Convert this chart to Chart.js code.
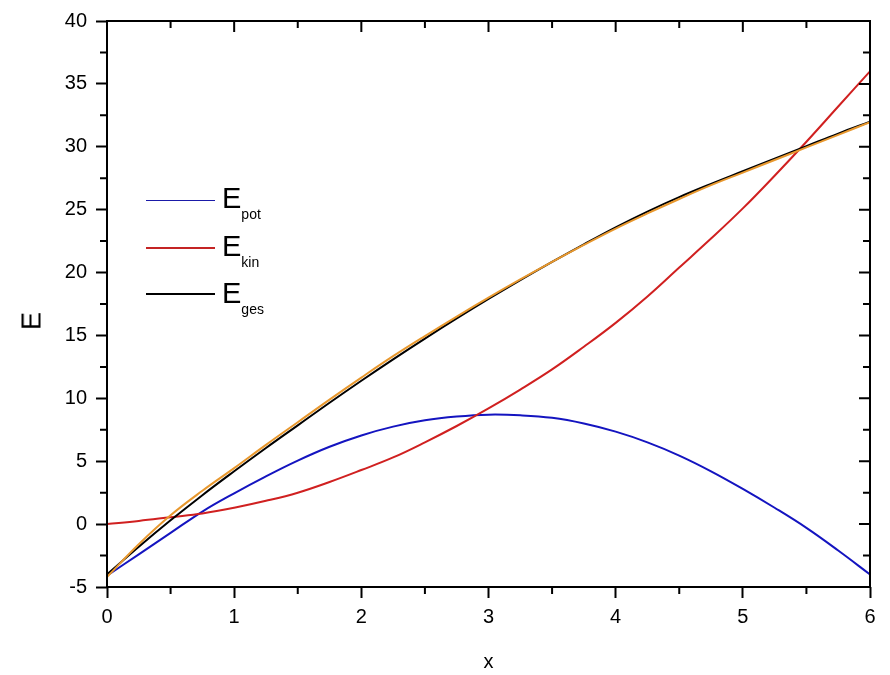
<!DOCTYPE html>
<html>
<head>
<meta charset="utf-8">
<script src="https://cdn.jsdelivr.net/npm/chart.js@4/dist/chart.umd.min.js"></script>
<style>
  body { margin: 0; background: #fff; }
  #wrap { position: relative; width: 890px; height: 675px; }
  .leg-line { position: absolute; left: 146px; width: 69px; }
  .leg-text { position: absolute; left: 222px; font-family: Arial, "Liberation Sans", sans-serif;
              font-size: 29px; line-height: 29px; color: #000; white-space: nowrap; }
  .leg-text span { font-size: 14px; vertical-align: -11px; }
  #ytitle { position: absolute; left: 32px; top: 321px; transform: translate(-50%, -50%) rotate(-90deg);
            font-family: Arial, "Liberation Sans", sans-serif; font-size: 27px; line-height: 27px; color: #000; }
</style>
</head>
<body>
<div id="wrap">
  <canvas id="chart" width="890" height="675"></canvas>
  <div id="ytitle">E</div>
  <div class="leg-line" style="top:200px;height:1px;background:#1a1aa8"></div>
  <div class="leg-text" style="top:184px">E<span>pot</span></div>
  <div class="leg-line" style="top:247px;height:2px;background:#c42424"></div>
  <div class="leg-text" style="top:232px">E<span>kin</span></div>
  <div class="leg-line" style="top:293px;height:2px;background:#000"></div>
  <div class="leg-text" style="top:279px">E<span>ges</span></div>
</div>
<script>
// x positions, every 0.25
const xs = [0, 0.25, 0.5, 0.75, 1, 1.25, 1.5, 1.75, 2, 2.25, 2.5, 2.75, 3,
            3.25, 3.5, 3.75, 4, 4.25, 4.5, 4.75, 5, 5.25, 5.5, 5.75, 6];

const ePot = [-4.1, -2.4, -0.7, 1.0, 2.45, 3.8, 5.05, 6.15, 7.05, 7.75, 8.25, 8.55, 8.7,
              8.65, 8.45, 8.0, 7.35, 6.5, 5.45, 4.2, 2.8, 1.3, -0.3, -2.1, -4.0];
const eKin = [0, 0.25, 0.55, 0.85, 1.3, 1.85, 2.5, 3.35, 4.3, 5.3, 6.5, 7.8, 9.2,
              10.7, 12.3, 14.1, 16.0, 18.1, 20.4, 22.7, 25.1, 27.7, 30.4, 33.2, 36.0];
const eGes = [-4.0, -1.8, 0.3, 2.3, 4.2, 6.05, 7.85, 9.65, 11.4, 13.1, 14.75, 16.35, 17.9,
              19.4, 20.85, 22.25, 23.6, 24.85, 26.0, 27.05, 28.05, 29.05, 30.05, 31.05, 32.0];
// orange curve (not in the legend)
const eFit = [-4.2, -1.6, 0.7, 2.65, 4.45, 6.3, 8.1, 9.9, 11.65, 13.35, 14.95, 16.5, 18.0,
              19.45, 20.85, 22.2, 23.5, 24.7, 25.85, 26.95, 27.95, 28.95, 29.95, 30.95, 31.95];

const xTicks = [0, 1, 2, 3, 4, 5, 6];
const yTicks = [-5, 0, 5, 10, 15, 20, 25, 30, 35, 40];

const pts = ys => xs.map((x, i) => ({ x: x, y: ys[i] }));

// frame on all four sides, inward ticks on top/right, minor ticks everywhere
const frameTicks = {
  id: 'frameTicks',
  afterDraw(chart) {
    const { ctx, chartArea: a, scales: { x, y } } = chart;
    ctx.save();
    ctx.strokeStyle = '#000';
    ctx.lineWidth = 2;
    ctx.strokeRect(a.left, a.top, a.right - a.left, a.bottom - a.top);
    ctx.beginPath();
    for (let v = xTicks[0]; v <= xTicks[xTicks.length - 1] + 1e-6; v += 0.5) {
      const px = x.getPixelForValue(v);
      const major = Math.abs(v - Math.round(v)) < 1e-6;
      ctx.moveTo(px, a.top);
      ctx.lineTo(px, a.top + (major ? 11 : 7));
      if (!major) {
        ctx.moveTo(px, a.bottom);
        ctx.lineTo(px, a.bottom + 7);
      }
    }
    for (let v = yTicks[0]; v <= yTicks[yTicks.length - 1] + 1e-6; v += 2.5) {
      const py = y.getPixelForValue(v);
      const major = Math.abs(v / 5 - Math.round(v / 5)) < 1e-6;
      ctx.moveTo(a.right, py);
      ctx.lineTo(a.right - (major ? 11 : 7), py);
      if (!major) {
        ctx.moveTo(a.left, py);
        ctx.lineTo(a.left - 7, py);
      }
    }
    ctx.stroke();
    ctx.restore();
  }
};

const font = 'Arial, "Liberation Sans", sans-serif';

new Chart(document.getElementById('chart'), {
  type: 'line',
  data: {
    datasets: [
      { label: 'fit', data: pts(eFit), borderColor: '#e8982e', order: 0 },
      { label: 'E_ges', data: pts(eGes), borderColor: '#000000', order: 1 },
      { label: 'E_kin', data: pts(eKin), borderColor: '#d02020', order: 2 },
      { label: 'E_pot', data: pts(ePot), borderColor: '#1414c0', order: 3 },
    ],
  },
  options: {
    responsive: false,
    animation: false,
    layout: { padding: { left: 0, right: 20, top: 19, bottom: 0 } },
    elements: {
      point: { radius: 0 },
      line: { borderWidth: 2, tension: 0.4, fill: false },
    },
    plugins: { legend: { display: false }, tooltip: { enabled: false } },
    scales: {
      x: {
        type: 'linear',
        min: 0,
        max: 6,
        afterFit: s => { s.height = 88; },
        afterBuildTicks: s => { s.ticks = xTicks.map(v => ({ value: v })); },
        grid: { drawOnChartArea: false, drawTicks: true, tickLength: 11, tickWidth: 2, tickColor: '#000' },
        border: { display: false },
        ticks: { color: '#000', padding: 7, font: { family: font, size: 20 } },
        title: { display: true, text: 'x', color: '#000', padding: { top: 0, bottom: 1 },
                 font: { family: font, size: 20 } },
      },
      y: {
        min: -5,
        max: 40,
        afterFit: s => { s.width = 107; },
        afterBuildTicks: s => { s.ticks = yTicks.map(v => ({ value: v })); },
        grid: { drawOnChartArea: false, drawTicks: true, tickLength: 11, tickWidth: 2, tickColor: '#000' },
        border: { display: false },
        ticks: { color: '#000', padding: 9, font: { family: font, size: 20 } },
        title: { display: false },
      },
    },
  },
  plugins: [frameTicks],
});
</script>
</body>
</html>
